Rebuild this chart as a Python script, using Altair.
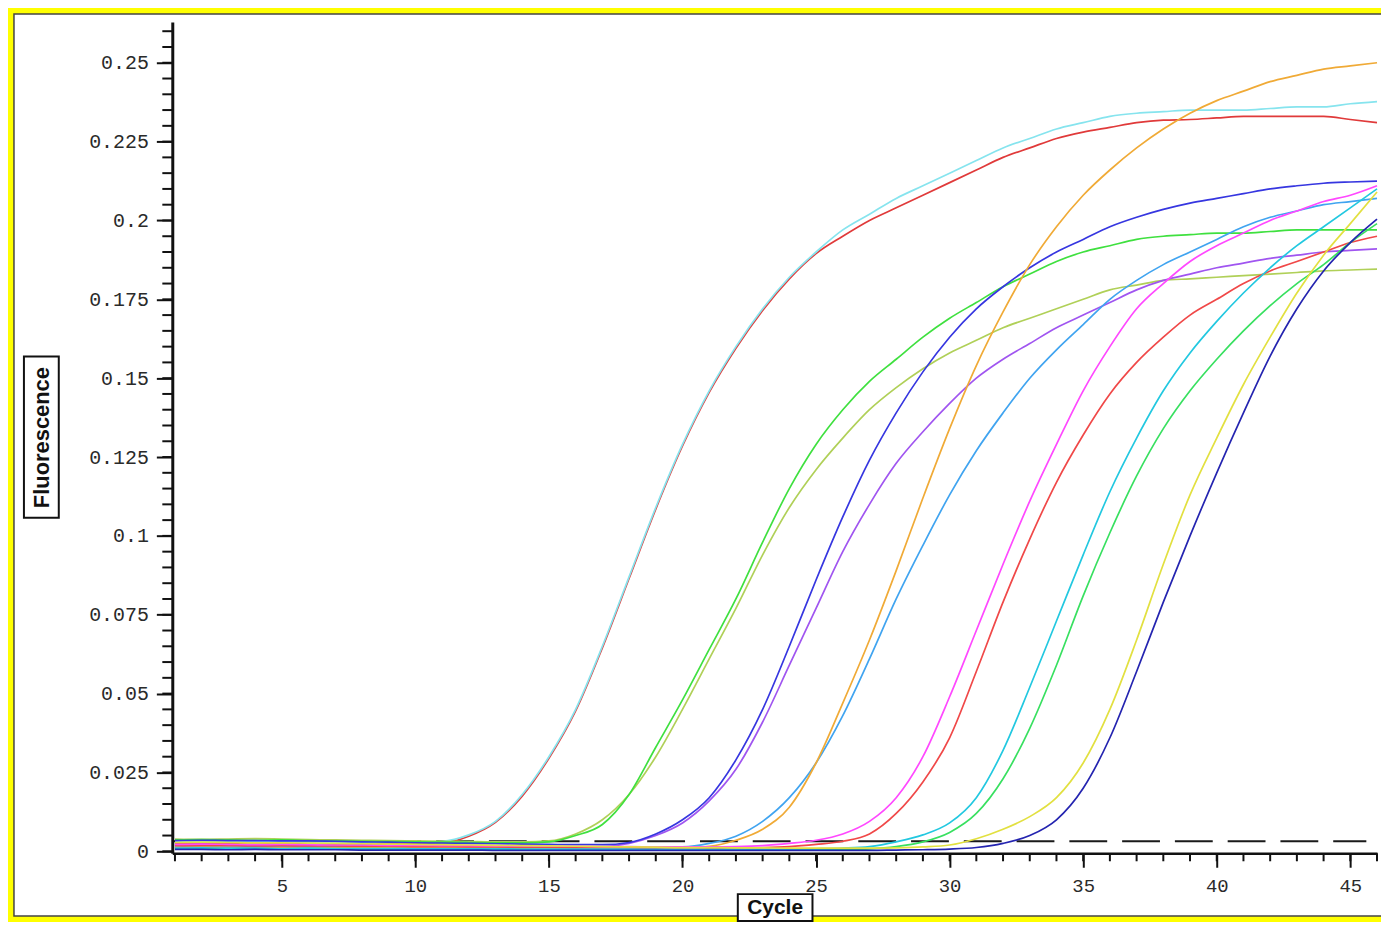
import altair as alt
import pandas as pd

# ---------------- data ----------------
cycles = list(range(1, 47))

well_names = ["W01", "W02", "W03", "W04", "W05", "W06", "W07",
              "W08", "W09", "W10", "W11", "W12", "W13", "W14"]
well_colors = ["#e03a3a", "#86e4ee", "#b0d058", "#3fe03f", "#a055f0", "#3636e0", "#40a4f0",
               "#f0aa36", "#f04848", "#ff48ff", "#38e060", "#22c8e0", "#e2e040", "#2424b0"]

w01_red = [0.0024, 0.0025, 0.0024, 0.0023, 0.0024, 0.0024, 0.0023, 0.0022, 0.0023, 0.0024, 0.0026,
           0.0048, 0.0092, 0.0175, 0.0295, 0.0445, 0.0645, 0.0865, 0.1085, 0.1285, 0.1455, 0.1595,
           0.1715, 0.1815, 0.1895, 0.195, 0.200, 0.204, 0.208, 0.212, 0.216, 0.220, 0.223, 0.226,
           0.228, 0.2295, 0.231, 0.2318, 0.232, 0.2325, 0.233, 0.233, 0.233, 0.233, 0.232, 0.231]
w02_cyan = [0.0031, 0.0031, 0.0030, 0.0032, 0.0031, 0.0030, 0.0030, 0.0029, 0.0029, 0.0030, 0.0032,
            0.0052, 0.0095, 0.018, 0.030, 0.045, 0.065, 0.087, 0.109, 0.129, 0.146, 0.160,
            0.172, 0.182, 0.190, 0.197, 0.202, 0.207, 0.211, 0.215, 0.219, 0.223, 0.226, 0.229,
            0.231, 0.233, 0.234, 0.2345, 0.235, 0.235, 0.235, 0.2355, 0.236, 0.236, 0.237, 0.2377]
w03_olive = [0.0039, 0.0038, 0.0039, 0.0040, 0.0039, 0.0037, 0.0036, 0.0035, 0.0034, 0.0033, 0.0032,
             0.0031, 0.0030, 0.0030, 0.0033, 0.0055, 0.0100, 0.018, 0.030, 0.045, 0.061, 0.077,
             0.094, 0.109, 0.121, 0.131, 0.140, 0.147, 0.153, 0.158, 0.162, 0.166, 0.169, 0.172,
             0.175, 0.178, 0.1795, 0.181, 0.1815, 0.182, 0.1825, 0.183, 0.1835, 0.184, 0.1843, 0.1846]
w04_green = [0.0036, 0.0037, 0.0036, 0.0035, 0.0036, 0.0034, 0.0033, 0.0032, 0.0031, 0.0030, 0.0029,
             0.0028, 0.0027, 0.0027, 0.0030, 0.0050, 0.0085, 0.018, 0.033, 0.048, 0.064, 0.080,
             0.098, 0.115, 0.129, 0.140, 0.149, 0.156, 0.163, 0.169, 0.174, 0.179, 0.183, 0.187,
             0.190, 0.192, 0.194, 0.195, 0.1955, 0.196, 0.196, 0.1965, 0.197, 0.197, 0.197, 0.197]
w05_violet = [0.0020, 0.0021, 0.0020, 0.0019, 0.0020, 0.0019, 0.0018, 0.0018, 0.0017, 0.0017, 0.0016,
              0.0016, 0.0015, 0.0015, 0.0015, 0.0014, 0.0015, 0.0025, 0.0050, 0.0090, 0.016, 0.026,
              0.041, 0.059, 0.077, 0.095, 0.110, 0.123, 0.133, 0.142, 0.150, 0.156, 0.161, 0.166,
              0.170, 0.174, 0.178, 0.181, 0.183, 0.185, 0.1865, 0.188, 0.189, 0.190, 0.1905, 0.191]
w06_blue = [0.0034, 0.0035, 0.0034, 0.0034, 0.0033, 0.0033, 0.0032, 0.0030, 0.0029, 0.0027, 0.0026,
            0.0025, 0.0024, 0.0023, 0.0022, 0.0021, 0.0021, 0.0028, 0.0055, 0.0100, 0.017, 0.029,
            0.045, 0.065, 0.086, 0.106, 0.124, 0.139, 0.152, 0.163, 0.172, 0.179, 0.185, 0.190,
            0.194, 0.198, 0.201, 0.2035, 0.2055, 0.207, 0.2085, 0.210, 0.211, 0.2118, 0.2122, 0.2125]
w07_skyblue = [0.0017, 0.0016, 0.0017, 0.0016, 0.0015, 0.0016, 0.0015, 0.0015, 0.0014, 0.0014, 0.0015,
               0.0014, 0.0013, 0.0013, 0.0013, 0.0012, 0.0012, 0.0012, 0.0013, 0.0014, 0.0025, 0.0048,
               0.0095, 0.017, 0.028, 0.043, 0.061, 0.080, 0.097, 0.113, 0.127, 0.139, 0.150, 0.159,
               0.167, 0.175, 0.181, 0.186, 0.190, 0.194, 0.198, 0.201, 0.203, 0.205, 0.206, 0.207]
w08_orange = [0.0012, 0.0013, 0.0012, 0.0011, 0.0012, 0.0012, 0.0011, 0.0011, 0.0012, 0.0012, 0.0011,
              0.0011, 0.0010, 0.0010, 0.0011, 0.0011, 0.0010, 0.0010, 0.0011, 0.0012, 0.0016, 0.0035,
              0.007, 0.014, 0.028, 0.047, 0.067, 0.089, 0.112, 0.134, 0.154, 0.171, 0.186, 0.198,
              0.208, 0.216, 0.223, 0.229, 0.234, 0.238, 0.241, 0.244, 0.246, 0.248, 0.249, 0.250]
w09_red = [0.0018, 0.0019, 0.0018, 0.0017, 0.0018, 0.0017, 0.0017, 0.0016, 0.0016, 0.0015, 0.0015,
           0.0014, 0.0014, 0.0013, 0.0013, 0.0012, 0.0012, 0.0011, 0.0011, 0.0011, 0.0010, 0.0011,
           0.0012, 0.0015, 0.0022, 0.0032, 0.0055, 0.012, 0.022, 0.036, 0.057, 0.079, 0.099, 0.117,
           0.132, 0.145, 0.155, 0.163, 0.170, 0.175, 0.180, 0.184, 0.187, 0.190, 0.193, 0.195]
w10_magenta = [0.0022, 0.0023, 0.0022, 0.0021, 0.0022, 0.0021, 0.0020, 0.0020, 0.0019, 0.0019, 0.0018,
               0.0018, 0.0017, 0.0017, 0.0016, 0.0016, 0.0015, 0.0015, 0.0014, 0.0014, 0.0014, 0.0015,
               0.0018, 0.0025, 0.0035, 0.0055, 0.0095, 0.017, 0.030, 0.049, 0.070, 0.091, 0.111, 0.129,
               0.146, 0.160, 0.172, 0.180, 0.187, 0.192, 0.196, 0.200, 0.203, 0.206, 0.208, 0.211]
w11_green = [0.0008, 0.0008, 0.0007, 0.0008, 0.0007, 0.0007, 0.0007, 0.0006, 0.0006, 0.0006, 0.0006,
             0.0005, 0.0005, 0.0005, 0.0005, 0.0005, 0.0005, 0.0004, 0.0004, 0.0004, 0.0004, 0.0004,
             0.0004, 0.0005, 0.0005, 0.0006, 0.0008, 0.0015, 0.0030, 0.0060, 0.012, 0.023, 0.039, 0.059,
             0.081, 0.101, 0.119, 0.134, 0.146, 0.156, 0.165, 0.173, 0.180, 0.186, 0.193, 0.199]
w12_teal = [0.0010, 0.0011, 0.0010, 0.0010, 0.0009, 0.0010, 0.0009, 0.0009, 0.0009, 0.0008, 0.0008,
            0.0008, 0.0008, 0.0007, 0.0007, 0.0007, 0.0007, 0.0007, 0.0006, 0.0006, 0.0006, 0.0006,
            0.0006, 0.0007, 0.0008, 0.0010, 0.0015, 0.0030, 0.0052, 0.0090, 0.017, 0.032, 0.052, 0.073,
            0.094, 0.114, 0.131, 0.146, 0.158, 0.168, 0.177, 0.185, 0.192, 0.198, 0.204, 0.210]
w13_yellow = [0.0028, 0.0029, 0.0028, 0.0027, 0.0027, 0.0026, 0.0025, 0.0024, 0.0023, 0.0022, 0.0021,
              0.0020, 0.0019, 0.0018, 0.0017, 0.0016, 0.0015, 0.0014, 0.0013, 0.0012, 0.0012, 0.0011,
              0.0011, 0.0010, 0.0010, 0.0010, 0.0010, 0.0011, 0.0014, 0.0020, 0.0040, 0.0070, 0.011, 0.017,
              0.028, 0.045, 0.067, 0.091, 0.113, 0.131, 0.148, 0.163, 0.177, 0.189, 0.199, 0.209]
w14_navy = [0.0006, 0.0006, 0.0005, 0.0006, 0.0005, 0.0005, 0.0005, 0.0004, 0.0004, 0.0004, 0.0004,
            0.0004, 0.0003, 0.0003, 0.0003, 0.0003, 0.0003, 0.0003, 0.0003, 0.0003, 0.0003, 0.0003,
            0.0003, 0.0003, 0.0003, 0.0003, 0.0003, 0.0004, 0.0005, 0.0007, 0.0012, 0.0025, 0.0050, 0.010,
            0.020, 0.036, 0.057, 0.079, 0.100, 0.120, 0.139, 0.157, 0.172, 0.184, 0.193, 0.2004]

series = [w01_red, w02_cyan, w03_olive, w04_green, w05_violet, w06_blue, w07_skyblue,
          w08_orange, w09_red, w10_magenta, w11_green, w12_teal, w13_yellow, w14_navy]

threshold_value = [0.0032]
threshold_start = [0.9]
threshold_end = [45.6]

x_major_ticks = [5, 10, 15, 20, 25, 30, 35, 40, 45]
x_minor_ticks = cycles
y_major_ticks = [0, 0.025, 0.05, 0.075, 0.1, 0.125, 0.15, 0.175, 0.2, 0.225, 0.25]
y_minor_ticks = [round(i * 0.005, 3) for i in range(53)]

# ---------------- tables ----------------
rows = []
for name, vals in zip(well_names, series):
    for c, v in zip(cycles, vals):
        rows.append({"cycle": c, "fluorescence": v, "well": name})
df = pd.DataFrame(rows)

thr_df = pd.DataFrame({"cycle": threshold_start, "cycle_end": threshold_end,
                       "fluorescence": threshold_value})
xminor_df = pd.DataFrame({"cycle": x_minor_ticks})
yminor_df = pd.DataFrame({"fluorescence": y_minor_ticks})
one = pd.DataFrame({"k": [0]})

W, H = 1210, 835
X_DOMAIN = [0.9, 46.0]
Y_DOMAIN = [-0.00063, 0.26294]

x_axis = alt.Axis(
    values=x_major_ticks, grid=False, tickSize=14, tickWidth=2, tickColor="#111",
    domainColor="#111", domainWidth=2.5, labelFont="Liberation Mono", labelFontSize=19,
    labelColor="#2a2a2a", labelPadding=9, title="Cycle", titleFont="Liberation Sans",
    titleFontWeight="bold", titleFontSize=21, titleColor="#111", titleX=605, titleY=54,
    titleAlign="center", titleBaseline="middle", zindex=1,
)
y_axis = alt.Axis(
    values=y_major_ticks, format=".3~f", grid=False, tickSize=16, tickWidth=2,
    tickColor="#111", domainColor="#111", domainWidth=3, labelFont="Liberation Mono",
    labelFontSize=20, labelColor="#2a2a2a", labelPadding=8, title="Fluorescence",
    titleFont="Liberation Sans", titleFontWeight="bold", titleFontSize=22, titleColor="#111",
    titleX=-131, titleY=417, titleAngle=270, titleAlign="center", titleBaseline="middle",
    zindex=1,
)


def X(field="cycle"):
    return alt.X(f"{field}:Q", scale=alt.Scale(domain=X_DOMAIN, nice=False, zero=False), axis=x_axis)


def Y(field="fluorescence"):
    return alt.Y(f"{field}:Q", scale=alt.Scale(domain=Y_DOMAIN, nice=False, zero=False), axis=y_axis)


panel = alt.Chart(one).mark_rect(fill="white", stroke="#444", strokeWidth=1.5).encode(
    x=alt.value(-159), x2=alt.value(1225), y=alt.value(-8), y2=alt.value(898)
)
ybox = alt.Chart(one).mark_rect(fill="white", stroke="#111", strokeWidth=2).encode(
    x=alt.value(-149), x2=alt.value(-114), y=alt.value(336), y2=alt.value(498)
)
xbox = alt.Chart(one).mark_rect(fill="white", stroke="#111", strokeWidth=2).encode(
    x=alt.value(568), x2=alt.value(643), y=alt.value(876), y2=alt.value(903)
)

x_minor = alt.Chart(xminor_df).mark_rule(color="#111", strokeWidth=2).encode(
    x=X(), y=alt.value(H), y2=alt.value(H + 8)
)
y_minor = alt.Chart(yminor_df).mark_rule(color="#111", strokeWidth=2).encode(
    y=Y(), x=alt.value(-10), x2=alt.value(0)
)

threshold = alt.Chart(thr_df).mark_rule(color="#1a1a1a", strokeWidth=2, strokeDash=[38, 15]).encode(
    x=X(), x2="cycle_end:Q", y=Y()
)

lines = alt.Chart(df).mark_line(strokeWidth=1.7, interpolate="monotone").encode(
    x=X(),
    y=Y(),
    color=alt.Color("well:N", scale=alt.Scale(domain=well_names, range=well_colors), legend=None),
)

chart = alt.layer(panel, ybox, xbox, x_minor, y_minor, threshold, lines).properties(
    width=W,
    height=H,
    padding={"left": 165, "top": 12, "right": 4, "bottom": 67},
    autosize=alt.AutoSizeParams(type="none"),
    background="#ffff00",
).configure_view(strokeWidth=0)

chart.save("out.html", embed_options={"renderer": "svg", "actions": False})
